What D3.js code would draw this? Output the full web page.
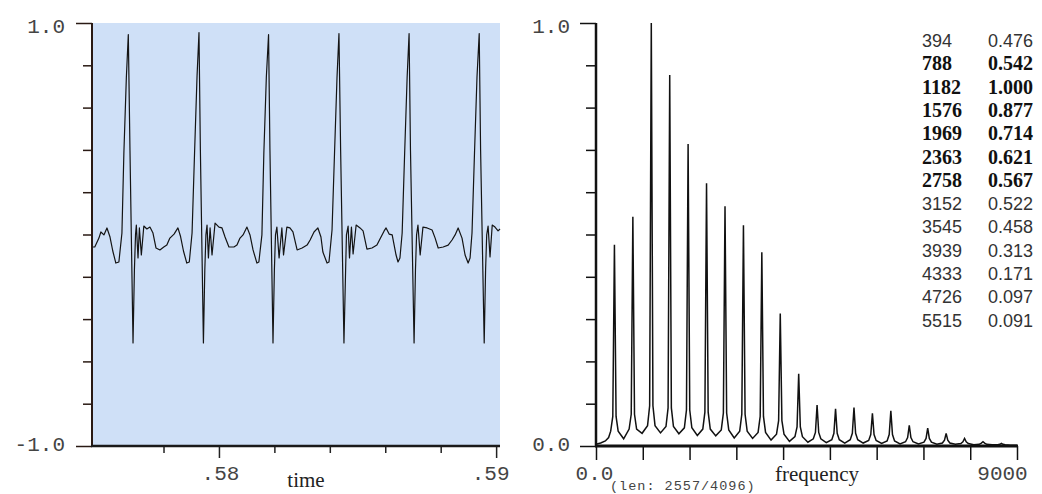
<!DOCTYPE html>
<html><head><meta charset="utf-8">
<script src="https://cdn.jsdelivr.net/npm/d3@7"></script>
<style>html,body{margin:0;padding:0;background:#fff;} svg{display:block;}</style>
</head><body><svg id="c" width="1042" height="494"></svg>
<script>
// ---------- DATA ----------
// waveform: [time in ms, amplitude]
const waveform = [
[575.42,-0.059],[575.52,-0.059],[575.67,-0.017],[575.74,0.012],[575.85,-0.002],[575.96,0.031],[576.07,-0.012],[576.17,-0.078],[576.28,-0.135],[576.39,-0.130],[576.50,0.007],
[576.57,0.385],[576.66,0.745],[576.73,0.945],[576.79,0.400],[576.90,-0.513],[576.95,-0.168],[576.99,-0.002],
[577.02,0.045],[577.08,-0.111],[577.13,0.031],[577.20,-0.097],[577.29,0.040],[577.40,0.026],[577.51,0.035],[577.62,0.007],[577.73,-0.064],[577.87,-0.073],[578.01,-0.059],[578.12,-0.050],[578.23,-0.017],[578.38,0.002],[578.52,0.031],[578.61,-0.007],[578.72,-0.078],[578.84,-0.135],[578.93,-0.130],[579.03,0.007],
[579.12,0.385],[579.21,0.750],[579.28,0.955],[579.33,0.400],[579.44,-0.513],[579.49,-0.168],[579.53,-0.002],
[579.57,0.045],[579.62,-0.111],[579.68,0.031],[579.75,-0.097],[579.86,0.054],[580.00,0.035],[580.11,0.031],[580.22,-0.012],[580.36,-0.059],[580.54,-0.059],[580.65,-0.050],[580.76,-0.017],[580.87,-0.002],[581.01,0.035],[581.12,-0.002],[581.23,-0.073],[581.37,-0.135],[581.44,-0.130],[581.55,-0.002],
[581.62,0.385],[581.71,0.745],[581.79,0.945],[581.84,0.400],[581.95,-0.513],[582.00,-0.168],[582.04,-0.002],
[582.09,0.035],[582.17,-0.111],[582.27,0.031],[582.33,-0.097],[582.45,0.035],[582.56,0.031],[582.67,0.012],[582.82,-0.073],[583.00,-0.064],[583.18,-0.050],[583.29,-0.026],[583.43,0.012],[583.57,0.031],[583.68,-0.012],[583.75,-0.083],[583.90,-0.135],[583.97,-0.130],[584.08,0.021],
[584.17,0.385],[584.26,0.745],[584.33,0.950],[584.39,0.400],[584.51,-0.513],[584.57,-0.168],[584.60,-0.002],
[584.66,0.040],[584.71,-0.111],[584.78,0.035],[584.84,-0.092],[584.95,0.045],[585.09,0.031],[585.20,0.017],[585.34,-0.069],[585.52,-0.064],[585.70,-0.050],[585.81,-0.021],[585.96,0.017],[586.03,0.031],[586.14,0.002],[586.25,-0.002],[586.39,-0.097],[586.46,-0.130],[586.53,-0.111],[586.61,0.007],
[586.70,0.385],[586.79,0.745],[586.86,0.950],[586.91,0.400],[587.04,-0.513],[587.09,-0.168],[587.13,-0.002],
[587.18,0.045],[587.26,-0.097],[587.36,0.035],[587.51,0.031],[587.69,0.021],[587.80,-0.017],[587.91,-0.064],[588.09,-0.059],[588.27,-0.050],[588.41,-0.026],[588.52,-0.002],[588.63,0.031],[588.77,-0.017],[588.88,-0.097],[588.99,-0.135],[589.06,-0.111],[589.13,0.007],
[589.22,0.385],[589.31,0.745],[589.39,0.950],[589.44,0.400],[589.57,-0.513],[589.62,-0.168],[589.66,-0.002],
[589.71,0.040],[589.78,-0.106],[589.86,0.045],[589.96,0.035],[590.07,0.017],[590.14,0.026]
];
const timeDomain = [575.42, 590.14];

// spectrum: [frequency Hz, normalised magnitude]
const spectrum = [
[0,0.004],[100,0.007],[200,0.012],[270,0.020],
[314,0.035],[359,0.070],[394,0.476],[429,0.070],[474,0.035],[591,0.017],
[708,0.040],[753,0.075],[788,0.542],[823,0.075],[868,0.040],[985,0.030],
[1102,0.048],[1147,0.095],[1182,1.000],[1217,0.095],[1262,0.048],[1379,0.031],
[1496,0.046],[1541,0.090],[1576,0.877],[1611,0.090],[1656,0.046],[1772,0.029],
[1889,0.043],[1934,0.085],[1969,0.714],[2004,0.085],[2049,0.043],[2166,0.025],
[2283,0.040],[2328,0.080],[2363,0.621],[2398,0.080],[2443,0.040],[2560,0.024],
[2678,0.038],[2723,0.078],[2758,0.567],[2793,0.078],[2838,0.038],[2955,0.019],
[3072,0.035],[3117,0.075],[3152,0.522],[3187,0.075],[3232,0.035],[3348,0.018],
[3465,0.032],[3510,0.070],[3545,0.458],[3580,0.070],[3625,0.032],[3742,0.014],
[3859,0.028],[3904,0.060],[3939,0.313],[3974,0.060],[4019,0.028],[4136,0.011],
[4253,0.022],[4298,0.045],[4333,0.171],[4368,0.045],[4413,0.022],[4530,0.009],
[4646,0.017],[4691,0.032],[4726,0.097],[4761,0.032],[4806,0.017],[4923,0.008],
[5041,0.015],[5086,0.030],[5121,0.088],[5156,0.030],[5201,0.015],[5318,0.007],
[5435,0.015],[5480,0.030],[5515,0.091],[5550,0.030],[5595,0.015],[5712,0.007],
[5829,0.013],[5874,0.027],[5909,0.077],[5944,0.027],[5989,0.013],[6106,0.006],
[6223,0.012],[6268,0.027],[6303,0.083],[6338,0.027],[6383,0.012],[6500,0.005],
[6617,0.010],[6662,0.020],[6697,0.049],[6732,0.020],[6777,0.010],[6894,0.005],
[7011,0.009],[7056,0.018],[7091,0.042],[7126,0.018],[7171,0.009],[7288,0.004],
[7405,0.007],[7450,0.014],[7485,0.030],[7520,0.014],[7565,0.007],[7682,0.004],
[7799,0.006],[7844,0.010],[7879,0.018],[7914,0.010],[7959,0.006],[8076,0.003],
[8193,0.004],[8238,0.007],[8273,0.010],[8308,0.007],[8353,0.004],[8470,0.003],
[8587,0.003],[8632,0.004],[8667,0.006],[8702,0.004],[8747,0.003],[8860,0.002],
[9000,0.002]
];

// peak table
const peakFreqLabels = ["394","788","1182","1576","1969","2363","2758","3152","3545","3939","4333","4726","5515"];
const peakAmpLabels  = ["0.476","0.542","1.000","0.877","0.714","0.621","0.567","0.522","0.458","0.313","0.171","0.097","0.091"];

// ticks
const leftYTicks = [-1,-0.8,-0.6,-0.4,-0.2,0,0.2,0.4,0.6,0.8,1];
const leftYTickLabels = ["-1.0","","","","","","","","","","1.0"];
const leftXTicks = [578,580,582,584,586,588,590];
const leftXTickLabels = ["",".58","","","","",".59"];
const rightYTicks = [0,0.1,0.2,0.3,0.4,0.5,0.6,0.7,0.8,0.9,1];
const rightYTickLabels = ["0.0","","","","","","","","","","1.0"];
const rightXTicks = [0,1000,2000,3000,4000,5000,6000,7000,8000,9000];
const rightXTickLabels = ["0.0","","","","","","","","","9000"];
const leftXTitle = "time";
const rightXTitle = "frequency";
const lenNote = "(len: 2557/4096)";

// ---------- DRAW ----------
const svg = d3.select("#c");
svg.append("rect").attr("width",1042).attr("height",494).attr("fill","#fff");
const MONO = "'Liberation Mono', 'DejaVu Sans Mono', monospace";
const SERIF = "'Liberation Serif', 'DejaVu Serif', serif";
const SANS = "'Liberation Sans', Arial, sans-serif";

// LEFT PANEL
const xL = d3.scaleLinear().domain(timeDomain).range([92,500]);
const yL = d3.scaleLinear().domain([-1,1]).range([446,23]);
svg.append("rect").attr("x",xL(timeDomain[0])).attr("y",yL(1))
  .attr("width",xL(timeDomain[1])-xL(timeDomain[0])).attr("height",yL(-1)-yL(1))
  .attr("fill","#cfe0f7");
svg.append("path").datum(waveform)
  .attr("d", d3.line().x(d=>xL(d[0])).y(d=>yL(d[1])))
  .attr("fill","none").attr("stroke","#141414").attr("stroke-width",1.2).attr("stroke-linejoin","round");

function styleAxis(g, color){
  g.select(".domain").remove();
  g.selectAll(".tick line").attr("stroke",color).attr("stroke-width",1.5);
  g.selectAll(".tick text").attr("font-family",MONO).attr("font-size",21).attr("fill","#444");
}

const gyL = svg.append("g").attr("transform",`translate(${xL.range()[0]},0)`)
  .call(d3.axisLeft(yL).tickValues(leftYTicks).tickSize(9).tickSizeOuter(0)
    .tickFormat((d,i)=>leftYTickLabels[i]));
styleAxis(gyL,"#2a1a14");
gyL.selectAll(".tick").filter((d,i)=>leftYTickLabels[i]!=="").select("line").attr("x2",-16);
gyL.selectAll(".tick text").attr("x",-27).attr("dy",(d)=> d>0 ? "0.45em" : "0.2em");

const gxL = svg.append("g").attr("transform",`translate(0,${yL.range()[0]})`)
  .call(d3.axisBottom(xL).tickValues(leftXTicks).tickSize(7).tickSizeOuter(0)
    .tickFormat((d,i)=>leftXTickLabels[i]));
styleAxis(gxL,"#222");
gxL.selectAll(".tick").filter((d,i)=>leftXTickLabels[i]!=="").select("line").attr("y2",12);
gxL.selectAll(".tick text").attr("y",34).attr("dy",0)
  .attr("dx",(d,i)=> i===leftXTicks.length-1 ? -6 : 1);

// axis lines
svg.append("line").attr("x1",xL.range()[0]).attr("x2",xL.range()[0]).attr("y1",yL(1)).attr("y2",yL(-1)+1)
  .attr("stroke","#2a1a14").attr("stroke-width",2);
svg.append("line").attr("x1",xL.range()[0]-1).attr("x2",xL.range()[1]).attr("y1",yL(-1)).attr("y2",yL(-1))
  .attr("stroke","#1a1a1a").attr("stroke-width",2.5);

svg.append("text").attr("x",306).attr("y",487).attr("text-anchor","middle")
  .attr("font-family",SERIF).attr("font-size",21).attr("fill","#222").text(leftXTitle);

// RIGHT PANEL
const xR = d3.scaleLinear().domain([0,9000]).range([596,1017]);
const yR = d3.scaleLinear().domain([0,1]).range([446,23]);
svg.append("path").datum(spectrum)
  .attr("d", d3.line().x(d=>xR(d[0])).y(d=>yR(d[1])))
  .attr("fill","none").attr("stroke","#111").attr("stroke-width",1.5).attr("stroke-linejoin","miter");

const gyR = svg.append("g").attr("transform",`translate(${xR.range()[0]},0)`)
  .call(d3.axisLeft(yR).tickValues(rightYTicks).tickSize(10).tickSizeOuter(0)
    .tickFormat((d,i)=>rightYTickLabels[i]));
styleAxis(gyR,"#111");
gyR.selectAll(".tick").filter((d,i)=>rightYTickLabels[i]!=="").select("line").attr("x2",-16);
gyR.selectAll(".tick text").attr("x",-26).attr("dy",(d)=> d>0.5 ? "0.45em" : "0.2em");

const gxR = svg.append("g").attr("transform",`translate(0,${yR.range()[0]})`)
  .call(d3.axisBottom(xR).tickValues(rightXTicks).tickSize(14).tickSizeOuter(0)
    .tickFormat((d,i)=>rightXTickLabels[i]));
styleAxis(gxR,"#111");
gxR.selectAll(".tick text").attr("y",34).attr("dy",0)
  .attr("dx",(d,i)=> i===rightXTicks.length-1 ? -15 : -2);

svg.append("line").attr("x1",xR.range()[0]).attr("x2",xR.range()[0]).attr("y1",yR(1)).attr("y2",yR(0)+1)
  .attr("stroke","#111").attr("stroke-width",2.5);
svg.append("line").attr("x1",xR.range()[0]-1).attr("x2",xR.range()[1]+1).attr("y1",yR(0)).attr("y2",yR(0))
  .attr("stroke","#111").attr("stroke-width",3);

svg.append("text").attr("x",817).attr("y",481).attr("text-anchor","middle")
  .attr("font-family",SERIF).attr("font-size",21).attr("fill","#222").text(rightXTitle);
svg.append("text").attr("x",610).attr("y",490)
  .attr("font-family",MONO).attr("font-size",13.5).attr("letter-spacing",1)
  .attr("fill","#444").text(lenNote);

// peak table
const tbl = svg.append("g");
peakFreqLabels.forEach((f,i)=>{
  const bold = i>=1 && i<=6;
  const y = 47 + i*23.3;
  [[922,f],[988,peakAmpLabels[i]]].forEach(([x,t])=>{
    tbl.append("text").attr("x",x).attr("y",y)
      .attr("font-family", bold ? SERIF : SANS)
      .attr("font-weight", bold ? "bold" : "normal")
      .attr("font-size", bold ? 20 : 18)
      .attr("fill", bold ? "#111" : "#333").text(t);
  });
});
</script></body></html>
